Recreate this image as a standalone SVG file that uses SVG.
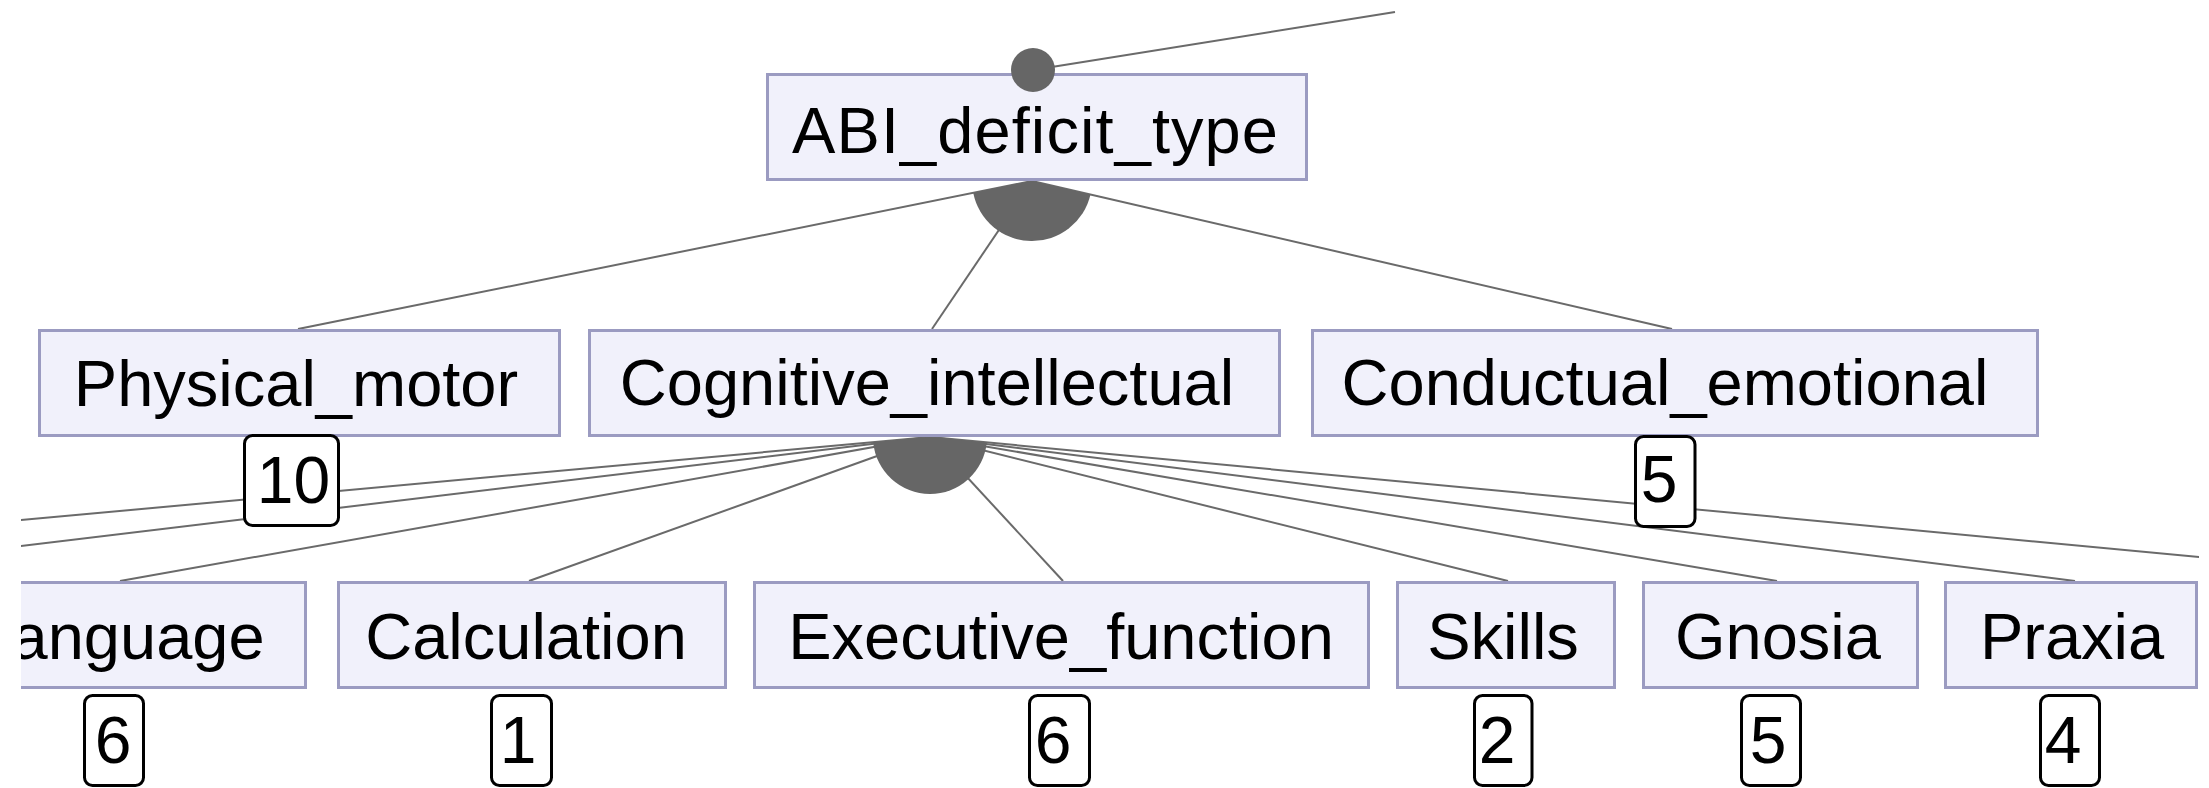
<svg xmlns="http://www.w3.org/2000/svg" width="2209" height="788" viewBox="0 0 2209 788">
  <defs>
    <clipPath id="view">
      <rect x="21" y="0" width="2178" height="788"/>
    </clipPath>
    <style>
      .feature { fill: #f1f1fb; stroke: #9b9bc1; stroke-width: 3; }
      .label { font-family: "Liberation Sans", Arial, sans-serif; font-size: 65px; fill: #000; text-anchor: middle; }
      .count { fill: #fff; stroke: #000; stroke-width: 3; }
      .num { font-family: "Liberation Sans", Arial, sans-serif; font-size: 66px; fill: #000; text-anchor: middle; }
      .edge { stroke: #6a6a6a; stroke-width: 2; fill: none; }
      .group { fill: #666; stroke: none; }
    </style>
  </defs>
  <rect width="2209" height="788" fill="#fff"/>
  <g clip-path="url(#view)">
    <!-- connectors: parent-child edges and group arcs -->
    <g id="connectors">
      <line class="edge" x1="1033" y1="70" x2="1395" y2="12"/>
      <!-- ABI_deficit_type children -->
      <line class="edge" x1="1032" y1="181" x2="298" y2="329"/>
      <line class="edge" x1="1032" y1="181" x2="932" y2="329"/>
      <line class="edge" x1="1032" y1="181" x2="1672" y2="329"/>
      <path class="group" d="M1032,181 L973.2,192.8 A60,60 0 0 0 1090.5,194.6 Z"/>
      <!-- Cognitive_intellectual children -->
      <line class="edge" x1="930" y1="437" x2="-647" y2="581"/>
      <line class="edge" x1="930" y1="437" x2="-271" y2="581"/>
      <line class="edge" x1="930" y1="437" x2="120" y2="581"/>
      <line class="edge" x1="930" y1="437" x2="529" y2="581"/>
      <line class="edge" x1="930" y1="437" x2="1063" y2="581"/>
      <line class="edge" x1="930" y1="437" x2="1508" y2="581"/>
      <line class="edge" x1="930" y1="437" x2="1777" y2="581"/>
      <line class="edge" x1="930" y1="437" x2="2075" y2="581"/>
      <line class="edge" x1="930" y1="437" x2="2453" y2="581"/>
      <path class="group" d="M930,437 L873.2,442.2 A57,57 0 0 0 986.7,442.4 Z"/>
    </g>

    <g id="ABI_deficit_type">
      <rect class="feature" x="767.5" y="74.5" width="539" height="105"/>
      <text class="label" x="1035" y="153" textLength="486" lengthAdjust="spacing">ABI_deficit_type</text>
      <circle class="group" cx="1033" cy="70" r="22"/>
    </g>

    <g id="Physical_motor">
      <rect class="feature" x="39.5" y="330.5" width="520" height="105"/>
      <text class="label" x="296" y="406">Physical_motor</text>
      <rect class="count" x="244.5" y="435.5" width="94" height="90" rx="8"/>
      <text class="num" x="293.5" y="503">10</text>
    </g>

    <g id="Cognitive_intellectual">
      <rect class="feature" x="589.5" y="330.5" width="690" height="105"/>
      <text class="label" x="927" y="405">Cognitive_intellectual</text>
    </g>

    <g id="Conductual_emotional">
      <rect class="feature" x="1312.5" y="330.5" width="725" height="105"/>
      <text class="label" x="1665" y="405">Conductual_emotional</text>
      <rect class="count" x="1635.5" y="436.5" width="59.5" height="90" rx="8"/>
      <text class="num" x="1659" y="502">5</text>
    </g>

    <g id="Language">
      <rect class="feature" x="-47" y="582.5" width="352.5" height="105"/>
      <text class="label" x="120" y="659">Language</text>
      <rect class="count" x="84.5" y="695.5" width="59" height="90" rx="8"/>
      <text class="num" x="113" y="763">6</text>
    </g>

    <g id="Calculation">
      <rect class="feature" x="338.5" y="582.5" width="387" height="105"/>
      <text class="label" x="526" y="659">Calculation</text>
      <rect class="count" x="491.5" y="695.5" width="60" height="90" rx="8"/>
      <text class="num" x="518" y="763">1</text>
    </g>

    <g id="Executive_function">
      <rect class="feature" x="754.5" y="582.5" width="614" height="105"/>
      <text class="label" x="1061" y="659">Executive_function</text>
      <rect class="count" x="1029.5" y="695.5" width="60" height="90" rx="8"/>
      <text class="num" x="1053" y="763">6</text>
    </g>

    <g id="Skills">
      <rect class="feature" x="1397.5" y="582.5" width="217" height="105"/>
      <text class="label" x="1503" y="659">Skills</text>
      <rect class="count" x="1474.5" y="695.5" width="57.5" height="90" rx="8"/>
      <text class="num" x="1497" y="763">2</text>
    </g>

    <g id="Gnosia">
      <rect class="feature" x="1643.5" y="582.5" width="274" height="105"/>
      <text class="label" x="1778" y="659">Gnosia</text>
      <rect class="count" x="1741.5" y="695.5" width="59" height="90" rx="8"/>
      <text class="num" x="1768" y="763">5</text>
    </g>

    <g id="Praxia">
      <rect class="feature" x="1945.5" y="582.5" width="251" height="105"/>
      <text class="label" x="2072" y="659">Praxia</text>
      <rect class="count" x="2040.5" y="695.5" width="59" height="90" rx="8"/>
      <text class="num" x="2063" y="763">4</text>
    </g>
  </g>
</svg>
